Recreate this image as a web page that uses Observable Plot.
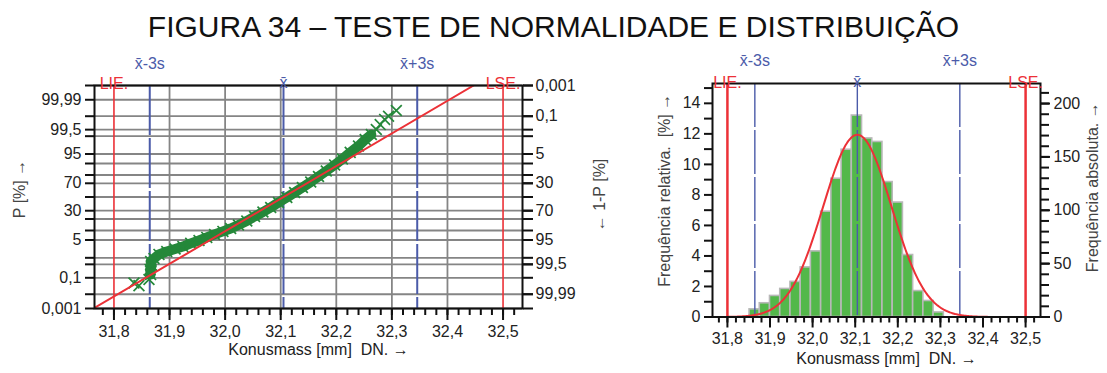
<!DOCTYPE html>
<html>
<head>
<meta charset="utf-8">
<script src="https://cdn.jsdelivr.net/npm/d3@7"></script>
<script src="https://cdn.jsdelivr.net/npm/@observablehq/plot@0.6"></script>
<style>
  body { margin: 0; background: #fff; font-family: "Liberation Sans", Arial, sans-serif; }
  #page { position: relative; width: 1107px; height: 373px; overflow: hidden; background: #fff; }
  #title { position: absolute; left: 0; top: 9px; width: 1107px; text-align: center;
           font-size: 30px; line-height: 36px; color: #111; white-space: nowrap; }
  #left { position: absolute; left: 0; top: 45px; }
  #right { position: absolute; left: 620px; top: 45px; }
</style>
</head>
<body>
<div id="page">
  <div id="title">FIGURA 34 – TESTE DE NORMALIDADE E DISTRIBUIÇÃO</div>
  <div id="left"></div>
  <div id="right"></div>
</div>
<script>
// ---- process statistics ----
const mean = 32.105;          // x̄ [mm]
const sd = 0.0802;            // s [mm]
const lie = 31.8;             // lower specification limit
const lse = 32.5;             // upper specification limit
const sampleSize = 1430;      // number of measured parts

// ---- normal probability plot: measured value [mm] and cumulative probability P [%] ----
const probX = [31.836, 31.845, 31.863, 31.866, 31.865, 31.868, 31.866, 31.872, 31.881, 31.895,
               31.910, 31.924, 31.938, 31.953, 31.967, 31.981, 31.996, 32.010, 32.024, 32.039,
               32.053, 32.068, 32.082, 32.096, 32.111, 32.125, 32.139, 32.154, 32.168, 32.182,
               32.197, 32.211, 32.225, 32.240, 32.252, 32.263, 32.272, 32.279, 32.287, 32.294, 32.308];
const probP = [0.05, 0.035, 0.08, 0.15, 0.28, 0.44, 0.68, 0.93, 1.4, 1.86,
               2.33, 2.9, 3.8, 4.8, 6.1, 7.6, 9.4, 11.4, 14.2, 17.9,
               22.8, 28.3, 34.4, 41.7, 49.2, 56.9, 64.2, 71.7, 78.4, 84.0,
               89.0, 92.7, 95.6, 97.45, 98.6, 99.16, 99.51, 99.72, 99.85, 99.90, 99.953];

// ---- histogram: lower class limits [mm] and relative frequency [%] ----
const binStart = [31.852, 31.876, 31.900, 31.924, 31.948, 31.972, 31.996, 32.020, 32.044, 32.068,
                  32.092, 32.116, 32.140, 32.164, 32.188, 32.212, 32.236, 32.260, 32.284];
const binWidth = 0.024;
const relFreq = [0.5, 0.9, 1.38, 1.84, 2.3, 3.25, 4.3, 6.9, 9.06, 10.96,
                 13.2, 11.7, 11.47, 8.84, 7.5, 4.06, 1.7, 1.05, 0.3];

// ---- axis ticks ----
const xTicks = [31.8, 31.9, 32.0, 32.1, 32.2, 32.3, 32.4, 32.5];
const xMinor = d3.range(0, 38).map(i => +(31.78 + i * 0.02).toFixed(2));
const gridP = [0.001, 0.01, 0.1, 0.5, 1, 5, 10, 20, 30, 50, 70, 80, 90, 95, 99, 99.5, 99.9, 99.99, 99.999];
const pLabels = [0.001, 0.1, 5, 30, 70, 95, 99.5, 99.99];        // P [%]
const qLabels = [0.001, 0.1, 5, 30, 70, 95, 99.5, 99.99];        // 1-P [%]
const relTicks = [0, 2, 4, 6, 8, 10, 12, 14];
const relMinor = [1, 3, 5, 7, 9, 11, 13, 15];
const absTicks = [0, 50, 100, 150, 200];
const absMinor = d3.range(0, 22).map(i => i * 10);

// ---- styling ----
const FONT = '"Liberation Sans", Arial, sans-serif';
const FS = 16;
const RED = "#ec3137";
const BLUE = "#4b5ba9";
const GRID = "#858585";
const DOTS = "#25883a";
const BARS = "#53b84a";
const INK = "#222";
const xDomain = [31.765, 32.535];
const fmtComma = v => String(v).replace(".", ",");
const fmtX = v => v.toFixed(1).replace(".", ",");

// inverse of the standard normal distribution (probability paper scale)
function probit(p) {
  const a = [-3.969683028665376e+01, 2.209460984245205e+02, -2.759285104469687e+02, 1.383577518672690e+02, -3.066479806614716e+01, 2.506628277459239e+00];
  const b = [-5.447609879822406e+01, 1.615858368580409e+02, -1.556989798598866e+02, 6.680131188771972e+01, -1.328068155288572e+01];
  const c = [-7.784894002430293e-03, -3.223964580411365e-01, -2.400758277161838e+00, -2.549732539343734e+00, 4.374664141464968e+00, 2.938163982698783e+00];
  const d = [7.784695709041462e-03, 3.224671290700398e-01, 2.445134137142996e+00, 3.754408661907416e+00];
  const lo = 0.02425, hi = 1 - lo;
  if (p < lo) {
    const q = Math.sqrt(-2 * Math.log(p));
    return (((((c[0]*q+c[1])*q+c[2])*q+c[3])*q+c[4])*q+c[5]) / ((((d[0]*q+d[1])*q+d[2])*q+d[3])*q+1);
  }
  if (p > hi) {
    const q = Math.sqrt(-2 * Math.log(1 - p));
    return -(((((c[0]*q+c[1])*q+c[2])*q+c[3])*q+c[4])*q+c[5]) / ((((d[0]*q+d[1])*q+d[2])*q+d[3])*q+1);
  }
  const q = p - 0.5, r = q * q;
  return (((((a[0]*r+a[1])*r+a[2])*r+a[3])*r+a[4])*r+a[5])*q / (((((b[0]*r+b[1])*r+b[2])*r+b[3])*r+b[4])*r+1);
}
const zOf = p => probit(p / 100);

const sigmaLines = [mean - 3 * sd, mean, mean + 3 * sd];
const xbar = "x\u0304";
const topLabels = [{x: mean - 3 * sd, t: xbar + "-3s"}, {x: mean + 3 * sd, t: xbar + "+3s"}];
const limitLabels = [{x: lie, t: "LIE."}, {x: lse, t: "LSE."}];
const axisStyle = {strokeWidth: 2, stroke: "#111", fill: INK, fontSize: FS, label: null};

// ================= left: probability plot =================
const points = probX.map((x, i) => ({x, p: probP[i]}));
const dense = points.filter(d => d.p >= 0.15 && d.p <= 99.2);
const gridZ = gridP.map(zOf);
const leftLab = new Map(pLabels.map(p => [zOf(p), fmtComma(p)]));
const rightLab = new Map(qLabels.map(q => [zOf(100 - q), fmtComma(q)]));
const fitEnds = [0.001, 99.999];

const leftPlot = Plot.plot({
  width: 620, height: 328,
  marginLeft: 94, marginRight: 98, marginTop: 40, marginBottom: 65,
  style: {fontFamily: FONT, fontSize: FS + "px", color: INK, background: "transparent", overflow: "visible"},
  x: {domain: xDomain, axis: null},
  y: {domain: [zOf(0.001), zOf(99.999)], axis: null},
  marks: [
    Plot.ruleY(gridZ, {stroke: GRID, strokeWidth: 1.8}),
    Plot.ruleX(xTicks.filter(v => v !== lie && v !== lse), {stroke: GRID, strokeWidth: 1.8}),
    Plot.ruleX([lie, lse], {stroke: RED, strokeWidth: 1.6}),
    Plot.ruleX(sigmaLines, {stroke: BLUE, strokeWidth: 2, strokeDasharray: "50,3"}),
    Plot.line(dense, {x: "x", y: d => zOf(d.p), stroke: DOTS, strokeWidth: 10, strokeLinecap: "round", strokeLinejoin: "round"}),
    Plot.dot(points, {x: "x", y: d => zOf(d.p), symbol: "times", r: 5, stroke: DOTS, strokeWidth: 1.7}),
    Plot.line(fitEnds, {x: p => mean + sd * zOf(p), y: zOf, stroke: RED, strokeWidth: 2, clip: true}),
    Plot.frame({stroke: "#111", strokeWidth: 2}),
    Plot.axisY(gridZ, {...axisStyle, anchor: "left", tickSize: 9, tickPadding: 4, tickFormat: z => leftLab.get(z) ?? ""}),
    Plot.axisY(gridZ, {...axisStyle, anchor: "right", tickSize: 10, tickPadding: 3, tickFormat: () => ""}),
    Plot.axisY([...rightLab.keys()], {...axisStyle, anchor: "right", tickSize: 10, tickPadding: 3, tickFormat: z => rightLab.get(z)}),
    Plot.axisX(xMinor, {...axisStyle, tickSize: 7, tickFormat: () => ""}),
    Plot.axisX(xTicks, {...axisStyle, tickSize: 12, tickPadding: 5, tickFormat: fmtX}),
    Plot.text(topLabels, {x: "x", text: "t", frameAnchor: "top", dy: -28, fill: BLUE, fontSize: FS}),
    Plot.text([mean], {x: d => d, text: () => xbar, frameAnchor: "top", dy: -9, fill: BLUE, fontSize: FS}),
    Plot.text(limitLabels, {x: "x", text: "t", frameAnchor: "top", dy: -8, fill: RED, fontSize: FS}),
    Plot.text(["Konusmass [mm]  DN. \u2192"], {frameAnchor: "bottom", dx: 10, dy: 46, fill: INK, fontSize: FS}),
    Plot.text(["P [%] \u2192"], {frameAnchor: "left", textAnchor: "middle", dx: -75, dy: -8, rotate: -90, fill: "#444", fontSize: FS}),
    Plot.text(["\u2190 1-P [%]"], {frameAnchor: "right", textAnchor: "middle", dx: 77, dy: -2, rotate: -90, fill: "#444", fontSize: FS})
  ]
});
document.getElementById("left").append(leftPlot);

// ================= right: histogram =================
const bins = binStart.map((lo, i) => ({lo, hi: lo + binWidth, rel: relFreq[i]}));
// fitted normal density, expressed as percent per class
const curve = d3.range(0, 326).map(i => 31.77 + i * 0.002).map(x => ({
  x, y: 100 * binWidth / sd * Math.exp(-0.5 * ((x - mean) / sd) ** 2) / Math.sqrt(2 * Math.PI)
}));
const toRel = c => c * 100 / sampleSize;
const absLab = new Map(absTicks.map(c => [toRel(c), String(c)]));

const rightPlot = Plot.plot({
  width: 487, height: 328,
  marginLeft: 92, marginRight: 67, marginTop: 38, marginBottom: 56.5,
  style: {fontFamily: FONT, fontSize: FS + "px", color: INK, background: "transparent", overflow: "visible"},
  x: {domain: xDomain, axis: null},
  y: {domain: [0, 15.3], axis: null},
  marks: [
    Plot.rectY(bins, {x1: "lo", x2: "hi", y: "rel", fill: BARS, stroke: "#b8b8b8", strokeWidth: 1.6}),
    Plot.ruleX([lie, lse], {stroke: RED, strokeWidth: 2.5}),
    Plot.ruleX(sigmaLines, {stroke: BLUE, strokeWidth: 1.4, strokeDasharray: "44,3"}),
    Plot.line(curve, {x: "x", y: "y", stroke: RED, strokeWidth: 2}),
    Plot.frame({stroke: "#111", strokeWidth: 2}),
    Plot.axisY(relMinor, {...axisStyle, anchor: "left", tickSize: 8, tickFormat: () => ""}),
    Plot.axisY(relTicks, {...axisStyle, anchor: "left", tickSize: 8, tickPadding: 4, tickFormat: d => String(d)}),
    Plot.axisY(absMinor.map(toRel), {...axisStyle, anchor: "right", tickSize: 8, tickFormat: () => ""}),
    Plot.axisY([...absLab.keys()], {...axisStyle, anchor: "right", tickSize: 9, tickPadding: 4, tickFormat: v => absLab.get(v)}),
    Plot.axisX(xMinor, {...axisStyle, tickSize: 6, tickFormat: () => ""}),
    Plot.axisX(xTicks, {...axisStyle, tickSize: 11, tickPadding: 5, tickFormat: fmtX}),
    Plot.text(topLabels, {x: "x", text: "t", frameAnchor: "top", dy: -29, fill: BLUE, fontSize: FS}),
    Plot.text([mean], {x: d => d, text: () => xbar, frameAnchor: "top", dy: -8, fill: BLUE, fontSize: FS}),
    Plot.text(limitLabels, {x: "x", text: "t", frameAnchor: "top", dy: -7, fill: RED, fontSize: FS}),
    Plot.text(["Konusmass [mm]  DN. \u2192"], {frameAnchor: "bottom", dx: 10, dy: 47, fill: INK, fontSize: FS}),
    Plot.text(["Frequência relativa.  [%] \u2192"], {frameAnchor: "left", textAnchor: "middle", dx: -48, dy: -10, rotate: -90, fill: "#444", fontSize: FS}),
    Plot.text(["Frequência absoluta. \u2192"], {frameAnchor: "right", textAnchor: "middle", dx: 52, dy: -13, rotate: -90, fill: "#444", fontSize: FS})
  ]
});
document.getElementById("right").append(rightPlot);
</script>
</body>
</html>
